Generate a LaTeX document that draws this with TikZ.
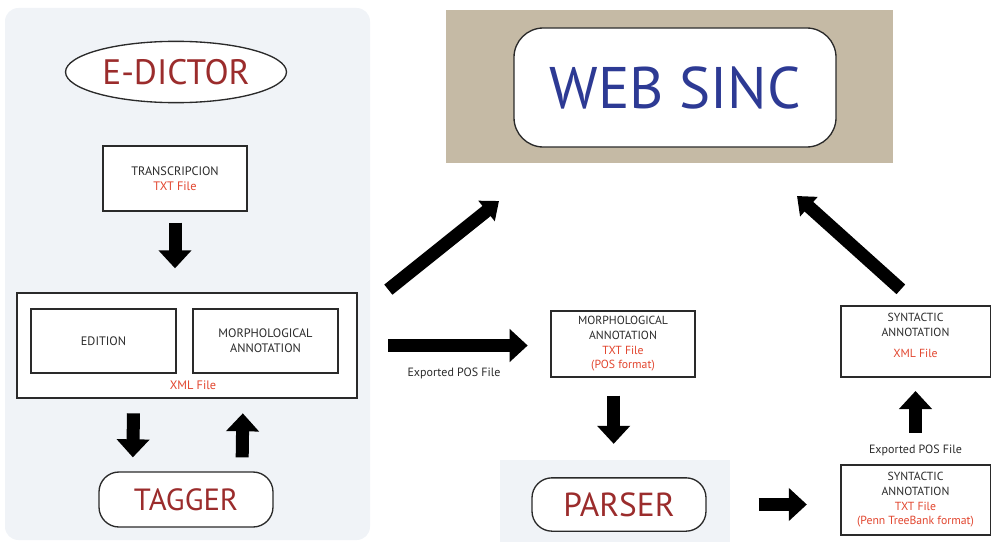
\documentclass[tikz,border=0pt]{standalone}
\usepackage{fontspec}
\setmainfont{PT Sans}
\usetikzlibrary{arrows.meta,shapes.geometric,positioning}
\definecolor{dred}{HTML}{9B2C2C}
\definecolor{fred}{HTML}{E2462F}
\definecolor{sand}{HTML}{C5BAA5}
\definecolor{pale}{HTML}{F0F3F7}
\definecolor{wblue}{HTML}{2D3A94}
\definecolor{ink}{HTML}{2A2A2A}

\begin{document}
\begin{tikzpicture}[x=0.75pt,y=-0.75pt,
	box/.style={draw=ink,line width=1pt,fill=white,align=center,inner sep=0pt,text=ink,font=\fontsize{9.2}{11.2}\selectfont},
	tool/.style={draw=ink,line width=1pt,fill=white,rounded corners=15pt,text=dred,font=\fontsize{23}{25}\selectfont},
	blk/.style={-{Triangle[length=13.5pt,width=24pt]},line width=9.75pt},
	diag/.style={-{Triangle[length=12pt,width=19pt]},line width=9.75pt},
	lbl/.style={inner sep=0pt,text=ink,font=\fontsize{9}{10}\selectfont}]
\newcommand{\fil}[1]{{\color{fred}#1}}

\useasboundingbox (0,0) rectangle (991,542);
% background panels
\fill[pale,rounded corners=10pt] (5,8) rectangle (370,540);
\fill[pale] (500,460) rectangle (730,542);
\node[fill=sand,minimum width=335.25pt,minimum height=114.75pt,inner sep=0pt] (panel) at (669.5,86.5) {};

% left column
\node[ellipse,draw=ink,line width=1pt,fill=white,minimum width=165pt,minimum height=46pt,text=dred,font=\fontsize{26.5}{28}\selectfont]
		(edictor)	at (176,72)	{E-DICTOR};
\node[box,minimum width=108pt,minimum height=48.75pt]	(trans)	at (175,178.5)	{TRANSCRIPCION\\\fil{TXT File}};
\node[box,minimum width=255pt,minimum height=78.75pt]	(xml)	at (187,345.5)	{};
\node[box,minimum width=108.75pt,minimum height=48pt]	(edition)	at (103.5,341)	{EDITION};
\node[box,minimum width=108.75pt,minimum height=48pt]	(morph1)	at (265.5,341)	{MORPHOLOGICAL\\ANNOTATION};
\node[lbl,text=fred,font=\fontsize{9.2}{10}\selectfont]	(xmlfile)	at (193,385)	{XML File};
\node[tool,minimum width=130.5pt,minimum height=41.25pt]	(tagger)	at (186,499.5)	{TAGGER};

% web sinc
\node[draw=ink,line width=1pt,fill=white,rounded corners=22pt,minimum width=241.5pt,minimum height=89.25pt,text=wblue,font=\fontsize{44}{46}\selectfont]
		(websinc)	at (675,87.5)	{WEB SINC};

% right part
\node[box,minimum width=108pt,minimum height=49.5pt,font=\fontsize{8.8}{11}\selectfont]	(morph2)	at (623,344)	{MORPHOLOGICAL\\ANNOTATION\\\fil{TXT File}\\\fil{(POS format)}};
\node[tool,minimum width=130.5pt,minimum height=40pt,font=\fontsize{25}{27}\selectfont]	(parser)	at (619,504.5)	{PARSER};
\node[box,minimum width=112pt,minimum height=52.5pt,font=\fontsize{8.8}{11}\selectfont]	(syn1)	at (915.5,500)	{SYNTACTIC\\ANNOTATION\\\fil{TXT File}\\\fil{(Penn TreeBank format)}};
\node[box,minimum width=112pt,minimum height=53.25pt,text depth=9pt,font=\fontsize{8.8}{11}\selectfont]	(syn2)	at (915.5,341.5)	{SYNTACTIC\\ANNOTATION\\[5pt]\fil{XML File}};
\node[lbl]	(exp2)	[above=6pt of syn1]	{Exported POS File};

\coordinate (ws1) at (499,201);
\coordinate (ws2) at (797,196);

% arrows
\draw[blk,shorten <=8.25pt,shorten >=18pt]	(trans)	-- (trans |- xml.north);
\draw[blk,shorten <=11pt,shorten >=10.5pt]	([xshift=-40pt]xml.south)	-- ([xshift=-40pt]tagger.north);
\draw[blk,shorten <=10.5pt,shorten >=11pt]	([xshift=42pt]tagger.north)	-- ([xshift=42pt]xml.south);
\draw[blk,shorten <=23pt,shorten >=17pt]	(xml.east)	-- node[lbl,below=12pt]	{Exported POS File}	(xml.east -| morph2.west);
\draw[blk,shorten <=13.5pt,shorten >=25pt]	([xshift=-7pt]morph2.south)	-- ([xshift=-7pt]morph2.south |- parser.north);
\draw[blk,shorten <=39pt,shorten >=25pt]	(parser.east)	-- (parser.east -| syn1.west);
\draw[blk,shorten <=9pt,shorten >=10pt]	(exp2)	-- (syn2);
\draw[diag]	([xshift=23pt,yshift=2pt]xml.north east)	-- (ws1);
\draw[diag]	([xshift=-11pt,yshift=12pt]syn2.north)	-- (ws2);
\end{tikzpicture}
\end{document}
